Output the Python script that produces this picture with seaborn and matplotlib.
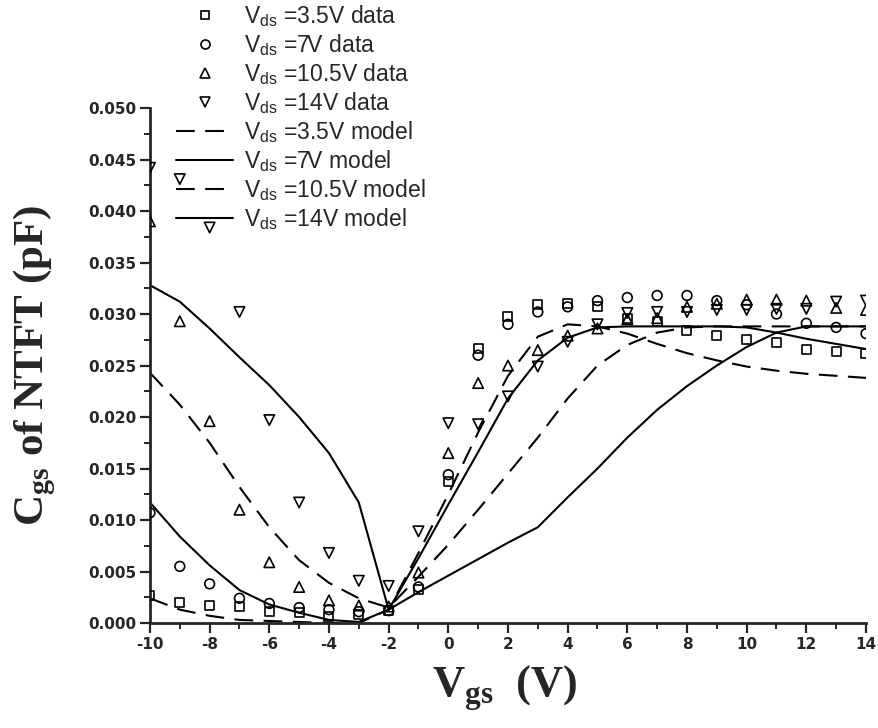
import numpy as np
import pandas as pd
import matplotlib
matplotlib.use('Agg')
import matplotlib.pyplot as plt
from matplotlib.lines import Line2D
from matplotlib.ticker import MultipleLocator, FormatStrFormatter
import seaborn as sns

# gate voltage sweep (V)
vgs = [-10, -9, -8, -7, -6, -5, -4, -3, -2, -1, 0, 1, 2, 3, 4,
       5, 6, 7, 8, 9, 10, 11, 12, 13, 14]

# measured Cgs (pF)
data_3p5 = [0.0027, 0.0020, 0.0017, 0.0016, 0.0011, 0.0010, 0.0006, 0.0008, 0.0012,
            0.0033, 0.0137, 0.0267, 0.0298, 0.0309, 0.0310, 0.0307, 0.0296, 0.0293,
            0.0284, 0.0279, 0.0275, 0.0272, 0.0266, 0.0264, 0.0262]
data_7 = [0.0107, 0.0055, 0.0038, 0.0024, 0.0019, 0.0015, 0.0013, 0.0011, 0.0012,
          0.0035, 0.0144, 0.0260, 0.0290, 0.0302, 0.0307, 0.0313, 0.0316, 0.0318,
          0.0318, 0.0313, 0.0309, 0.0300, 0.0291, 0.0287, 0.0281]
data_10p5 = [0.0390, 0.0293, 0.0196, 0.0110, 0.0059, 0.0035, 0.0022, 0.0017, 0.0016,
             0.0049, 0.0165, 0.0233, 0.0250, 0.0265, 0.0279, 0.0286, 0.0295, 0.0296,
             0.0307, 0.0310, 0.0314, 0.0314, 0.0313, 0.0306, 0.0304]
data_14 = [0.0442, 0.0431, 0.0384, 0.0302, 0.0197, 0.0117, 0.0068, 0.0041, 0.0036,
           0.0089, 0.0194, 0.0193, 0.0220, 0.0249, 0.0273, 0.0290, 0.0301, 0.0302,
           0.0302, 0.0304, 0.0304, 0.0305, 0.0305, 0.0312, 0.0313]

# model Cgs (pF)
model_3p5 = [0.0024, 0.0013, 0.0007, 0.0003, 0.0002, 0.0001, 0.0000, 0.0000, 0.0013,
             0.0068, 0.0125, 0.0185, 0.0240, 0.0278, 0.0290, 0.0288, 0.0281, 0.0271,
             0.0262, 0.0255, 0.0249, 0.0245, 0.0242, 0.0240, 0.0238]
model_7 = [0.0117, 0.0084, 0.0056, 0.0032, 0.0018, 0.0010, 0.0003, 0.0001, 0.0013,
           0.0063, 0.0115, 0.0166, 0.0218, 0.0255, 0.0277, 0.0287, 0.0288, 0.0288,
           0.0288, 0.0288, 0.0287, 0.0282, 0.0276, 0.0271, 0.0266]
model_10p5 = [0.0243, 0.0212, 0.0175, 0.0132, 0.0093, 0.0061, 0.0039, 0.0024, 0.0015,
              0.0045, 0.0076, 0.0110, 0.0145, 0.0180, 0.0218, 0.0250, 0.0270, 0.0282,
              0.0287, 0.0288, 0.0288, 0.0288, 0.0288, 0.0288, 0.0288]
model_14 = [0.0328, 0.0312, 0.0286, 0.0258, 0.0231, 0.0200, 0.0165, 0.0117, 0.0013,
            0.0030, 0.0046, 0.0062, 0.0078, 0.0093, 0.0122, 0.0150, 0.0180, 0.0207,
            0.0230, 0.0250, 0.0268, 0.0282, 0.0288, 0.0288, 0.0288]

vds_names = ['3.5', '7', '10.5', '14']
data_sets = [data_3p5, data_7, data_10p5, data_14]
model_sets = [model_3p5, model_7, model_10p5, model_14]
markers = ['s', 'o', '^', 'v']
marker_sizes = [6.5, 7, 7.5, 7.5]
long_dash = (9, 5)
model_dashes = [long_dash, '', long_dash, '']

sns.set_style('ticks')
plt.rcParams['font.family'] = ['DejaVu Sans']
plt.rcParams['axes.unicode_minus'] = False
plt.rcParams['mathtext.fontset'] = 'custom'
plt.rcParams['mathtext.rm'] = 'Liberation Sans'
plt.rcParams['mathtext.bf'] = 'Liberation Serif:bold'

fig = plt.figure(figsize=(8.79, 7.28), dpi=100)
ax = fig.add_axes([0.1706, 0.1442, 0.8146, 0.7074])

handles, labels = [], []
for name, vals, mk, ms in zip(vds_names, data_sets, markers, marker_sizes):
    df = pd.DataFrame({'vgs': vgs, 'cgs': vals})
    sns.scatterplot(data=df, x='vgs', y='cgs', marker=mk, s=ms ** 2,
                    facecolor='none', edgecolor='black', linewidth=1.2,
                    ax=ax, zorder=3)
    handles.append(Line2D([], [], marker=mk, ls='none', mfc='none', mec='black',
                          ms=ms - 0.5, mew=1.2))
    labels.append(r'V$_{\mathrm{ds}}$ =' + name + 'V data')

for name, vals, ds in zip(vds_names, model_sets, model_dashes):
    df = pd.DataFrame({'vgs': vgs, 'cgs': vals})
    line_kw = dict(color='black', linewidth=1.5, ax=ax, zorder=2)
    if ds:
        line_kw['dashes'] = ds
    sns.lineplot(data=df, x='vgs', y='cgs', **line_kw)
    h = Line2D([], [], color='black', lw=1.5)
    if ds:
        h.set_dashes(ds)
    handles.append(h)
    labels.append(r'V$_{\mathrm{ds}}$ =' + name + 'V model')

ax.set_xlim(-10, 14)
ax.set_ylim(0, 0.050)
ax.xaxis.set_major_locator(MultipleLocator(2))
ax.xaxis.set_minor_locator(MultipleLocator(1))
ax.yaxis.set_major_locator(MultipleLocator(0.005))
ax.yaxis.set_minor_locator(MultipleLocator(0.0025))
ax.yaxis.set_major_formatter(FormatStrFormatter('%.3f'))

sns.despine(ax=ax)
for sp in ['left', 'bottom']:
    ax.spines[sp].set_linewidth(2)
ax.tick_params(which='major', direction='out', length=7, width=1.6, pad=3)
ax.tick_params(which='minor', direction='out', length=4, width=1.4)
for lab in ax.get_xticklabels() + ax.get_yticklabels():
    lab.set_fontweight('bold')
    lab.set_fontsize(11)

ax.set_xlabel(r'V$_{\mathbf{gs}}$  (V)', fontfamily='Liberation Serif',
              fontweight='bold', fontsize=32)
ax.set_ylabel(r'C$_{\mathbf{gs}}$ of NTFT (pF)', fontfamily='Liberation Serif',
              fontweight='bold', fontsize=31)
ax.xaxis.set_label_coords(0.495, -0.078)
ax.yaxis.set_label_coords(-0.128, 0.5)

leg = fig.legend(handles, labels, loc='upper left',
                 bbox_to_anchor=(176 / 879, 0.996), frameon=False,
                 prop={'family': 'Liberation Sans', 'size': 16.5},
                 handlelength=2.5, handletextpad=0.45, labelspacing=0.135,
                 borderpad=0, borderaxespad=0, numpoints=1)

fig.savefig('out.png', dpi=100)
